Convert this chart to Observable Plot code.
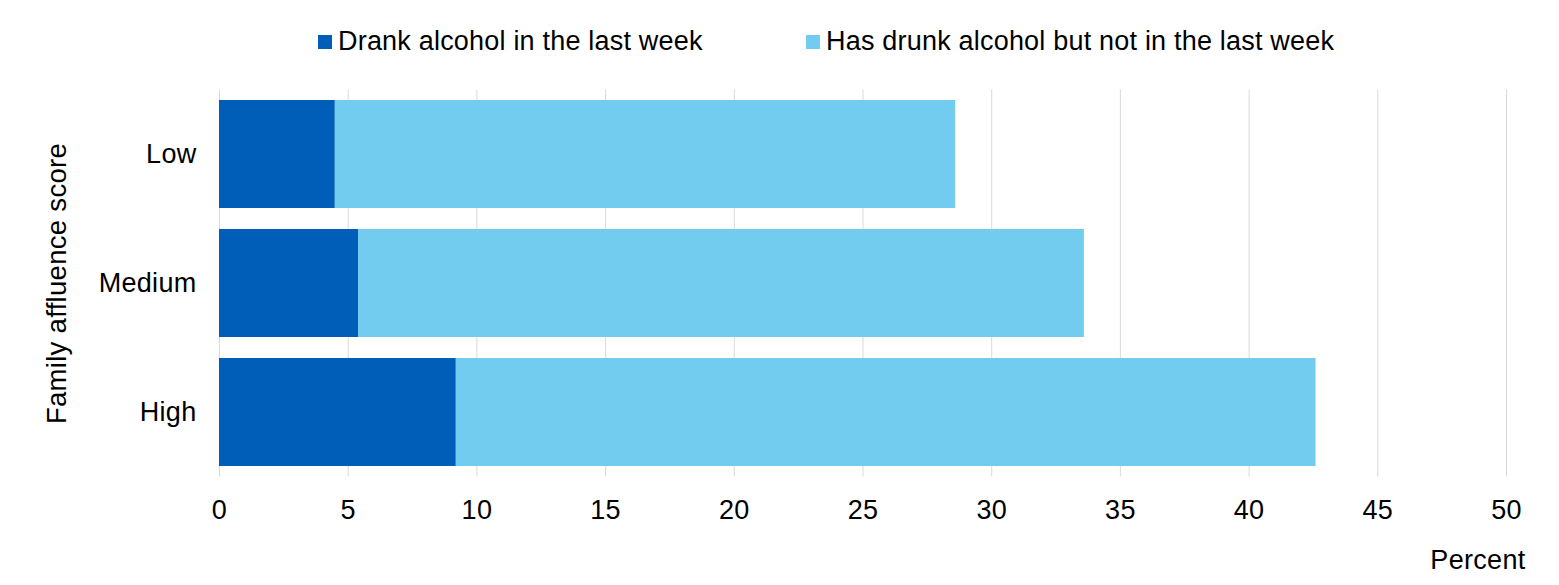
<!DOCTYPE html>
<html>
<head>
<meta charset="utf-8">
<script src="https://cdn.jsdelivr.net/npm/d3@7"></script>
<script src="https://cdn.jsdelivr.net/npm/@observablehq/plot@0.6"></script>
<style>
  html, body { margin: 0; padding: 0; background: #fff; }
  body { width: 1559px; height: 585px; overflow: hidden; font-family: "Liberation Sans", Arial, sans-serif; color: #000; }
  #legend { position: relative; height: 75px; width: 1559px; }
  .sw { position: absolute; width: 14px; height: 14px; top: 35px; }
  .lt { position: absolute; top: 28px; font-size: 27px; line-height: 27px; letter-spacing: 0.2px; white-space: nowrap; }
  #chart svg text { letter-spacing: 0.3px; }
</style>
</head>
<body>
<div id="legend"></div>
<div id="chart"></div>
<script>
const groups = ["Low", "Medium", "High"];
const seriesNames = ["Drank alcohol in the last week", "Has drunk alcohol but not in the last week"];
const seriesColors = ["#005EB8", "#71CCEF"];
const drankLastWeek = [4.5, 5.4, 9.2];
const drankNotLastWeek = [24.1, 28.2, 33.4];
const xTicks = [0, 5, 10, 15, 20, 25, 30, 35, 40, 45, 50];
const xLabel = "Percent";
const yLabel = "Family affluence score";

const rows = [];
groups.forEach((g, i) => {
  rows.push({group: g, series: seriesNames[0], value: drankLastWeek[i]});
  rows.push({group: g, series: seriesNames[1], value: drankNotLastWeek[i]});
});

// Legend
const legend = document.getElementById("legend");
const legendPos = [{sw: 318, tx: 338}, {sw: 806, tx: 826}];
seriesNames.forEach((name, i) => {
  const s = document.createElement("div");
  s.className = "sw";
  s.style.left = legendPos[i].sw + "px";
  s.style.background = seriesColors[i];
  legend.appendChild(s);
  const t = document.createElement("div");
  t.className = "lt";
  t.style.left = legendPos[i].tx + "px";
  t.textContent = name;
  legend.appendChild(t);
});

const chart = Plot.plot({
  width: 1559,
  height: 510,
  marginTop: 14.5,
  marginBottom: 108.5,
  marginLeft: 219,
  marginRight: 53,
  style: {fontFamily: "'Liberation Sans', Arial, sans-serif", fontSize: "27px", color: "#000", background: "#fff"},
  x: {domain: [0, 50]},
  y: {domain: groups, paddingInner: 0.163, paddingOuter: 0.0815},
  color: {domain: seriesNames, range: seriesColors},
  marks: [
    Plot.gridX(xTicks, {stroke: "#d9d9d9", strokeOpacity: 1, strokeWidth: 1}),
    Plot.barX(rows, Plot.stackX({x: "value", y: "group", fill: "series", order: null})),
    Plot.axisX({ticks: xTicks, tickSize: 0, tickPadding: 23.3, fontSize: 27, label: null, tickFormat: d => String(d)}),
    Plot.axisY({tickSize: 0, tickPadding: 23, fontSize: 27, label: null}),
    Plot.text([xLabel], {frameAnchor: "bottom-right", dx: 19, dy: 83.5, textAnchor: "end", lineAnchor: "middle", fontSize: 27, fill: "#000"}),
    Plot.text([yLabel], {frameAnchor: "left", dx: -162, rotate: -90, textAnchor: "middle", lineAnchor: "middle", fontSize: 27.5, fill: "#000"})
  ]
});
document.getElementById("chart").appendChild(chart);
</script>
</body>
</html>
